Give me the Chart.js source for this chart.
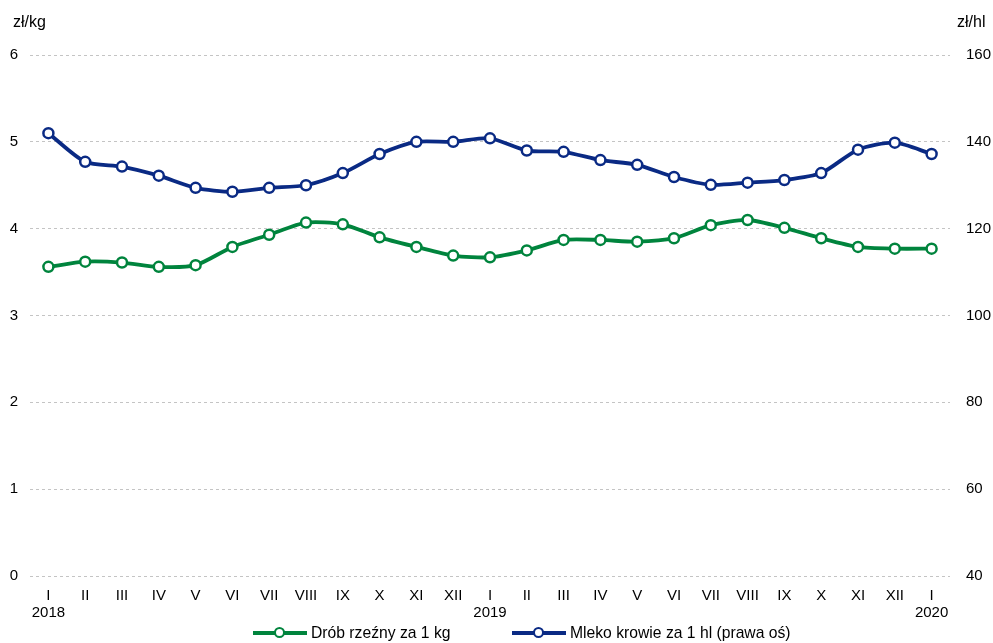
<!DOCTYPE html>
<html>
<head>
<meta charset="utf-8">
<script src="https://cdn.jsdelivr.net/npm/chart.js@4.4.0/dist/chart.umd.min.js"></script>
<style>
  html,body{margin:0;padding:0;background:#fff;}
  #wrap{position:relative;width:993px;height:643px;font-family:"Liberation Sans",Arial,sans-serif;}
  .item{position:absolute;top:623px;display:flex;align-items:center;gap:4px;font-size:15.7px;color:#000;white-space:nowrap;}
  .mark{position:relative;width:54px;height:20px;}
  .mark .ln{position:absolute;left:0;right:0;top:8px;height:4px;}
  .mark .dot{position:absolute;left:21px;top:4px;width:7px;height:7px;border-radius:50%;background:#fff;border:2.5px solid;}
</style>
</head>
<body>
<div id="wrap">
  <canvas id="c" width="993" height="643"></canvas>
  <div id="legend"></div>
</div>
<script>
const labels = [
  ['I','2018'],'II','III','IV','V','VI','VII','VIII','IX','X','XI','XII',
  ['I','2019'],'II','III','IV','V','VI','VII','VIII','IX','X','XI','XII',
  ['I','2020']
];
const drob = [3.56,3.62,3.61,3.56,3.58,3.79,3.93,4.07,4.05,3.90,3.79,3.69,3.67,3.75,3.87,3.87,3.85,3.89,4.04,4.10,4.01,3.89,3.79,3.77,3.77];
const mleko = [142.0,135.4,134.3,132.2,129.4,128.5,129.4,130.0,132.8,137.2,140.0,140.0,140.8,138.0,137.7,135.8,134.7,131.9,130.1,130.6,131.2,132.8,138.2,139.8,137.2];

const GREEN = '#00843d', NAVY = '#0a2a84';
const series = [
  {label:'Drób rzeźny za 1 kg', data:drob, color:GREEN, axis:'y', left:253},
  {label:'Mleko krowie za 1 hl (prawa oś)', data:mleko, color:NAVY, axis:'y1', left:512}
];

document.getElementById('legend').innerHTML = series.map(s=>`
  <div class="item" style="left:${s.left}px">
    <div class="mark"><div class="ln" style="background:${s.color}"></div><div class="dot" style="border-color:${s.color}"></div></div>
    <span>${s.label}</span>
  </div>`).join('');

const unitsPlugin = {
  id:'units',
  afterDraw(chart){
    const ctx = chart.ctx;
    ctx.save();
    ctx.fillStyle = '#000';
    ctx.font = '16px "Liberation Sans", Arial, sans-serif';
    ctx.textBaseline = 'middle';
    ctx.textAlign = 'left';
    ctx.fillText('zł/kg', 13, 23);
    ctx.fillText('zł/hl', 957, 23);
    ctx.restore();
  }
};

const tickFont = {family:'"Liberation Sans", Arial, sans-serif', size:15, lineHeight:1.17};

new Chart(document.getElementById('c'), {
  type:'line',
  data:{
    labels,
    datasets: series.map(s=>({
      label:s.label, data:s.data, yAxisID:s.axis,
      borderColor:s.color, backgroundColor:'#fff',
      borderWidth:3.8, tension:0.25,
      pointRadius:5, pointBorderWidth:2.5, pointBackgroundColor:'#fff', pointBorderColor:s.color
    }))
  },
  options:{
    responsive:false, animation:false,
    layout:{padding:{top:55,bottom:0,left:0,right:0}},
    plugins:{legend:{display:false}, tooltip:{enabled:false}},
    scales:{
      x:{
        offset:true,
        grid:{display:false},
        border:{display:false},
        ticks:{color:'#000', font:tickFont, maxRotation:0, autoSkip:false, padding:3},
        afterFit(s){ s.height = 67; }
      },
      y:{
        position:'left', min:0, max:6,
        grid:{color:'#c4c4c4', lineWidth:1, drawTicks:false},
        border:{display:false, dash:[3,3]},
        ticks:{stepSize:1, color:'#000', font:tickFont, padding:12},
        afterFit(s){ s.width = 30; }
      },
      y1:{
        position:'right', min:40, max:160,
        grid:{display:false, drawTicks:false},
        border:{display:false},
        ticks:{stepSize:20, color:'#000', font:tickFont, padding:16},
        afterFit(s){ s.width = 43; }
      }
    }
  },
  plugins:[unitsPlugin]
});
</script>
</body>
</html>
